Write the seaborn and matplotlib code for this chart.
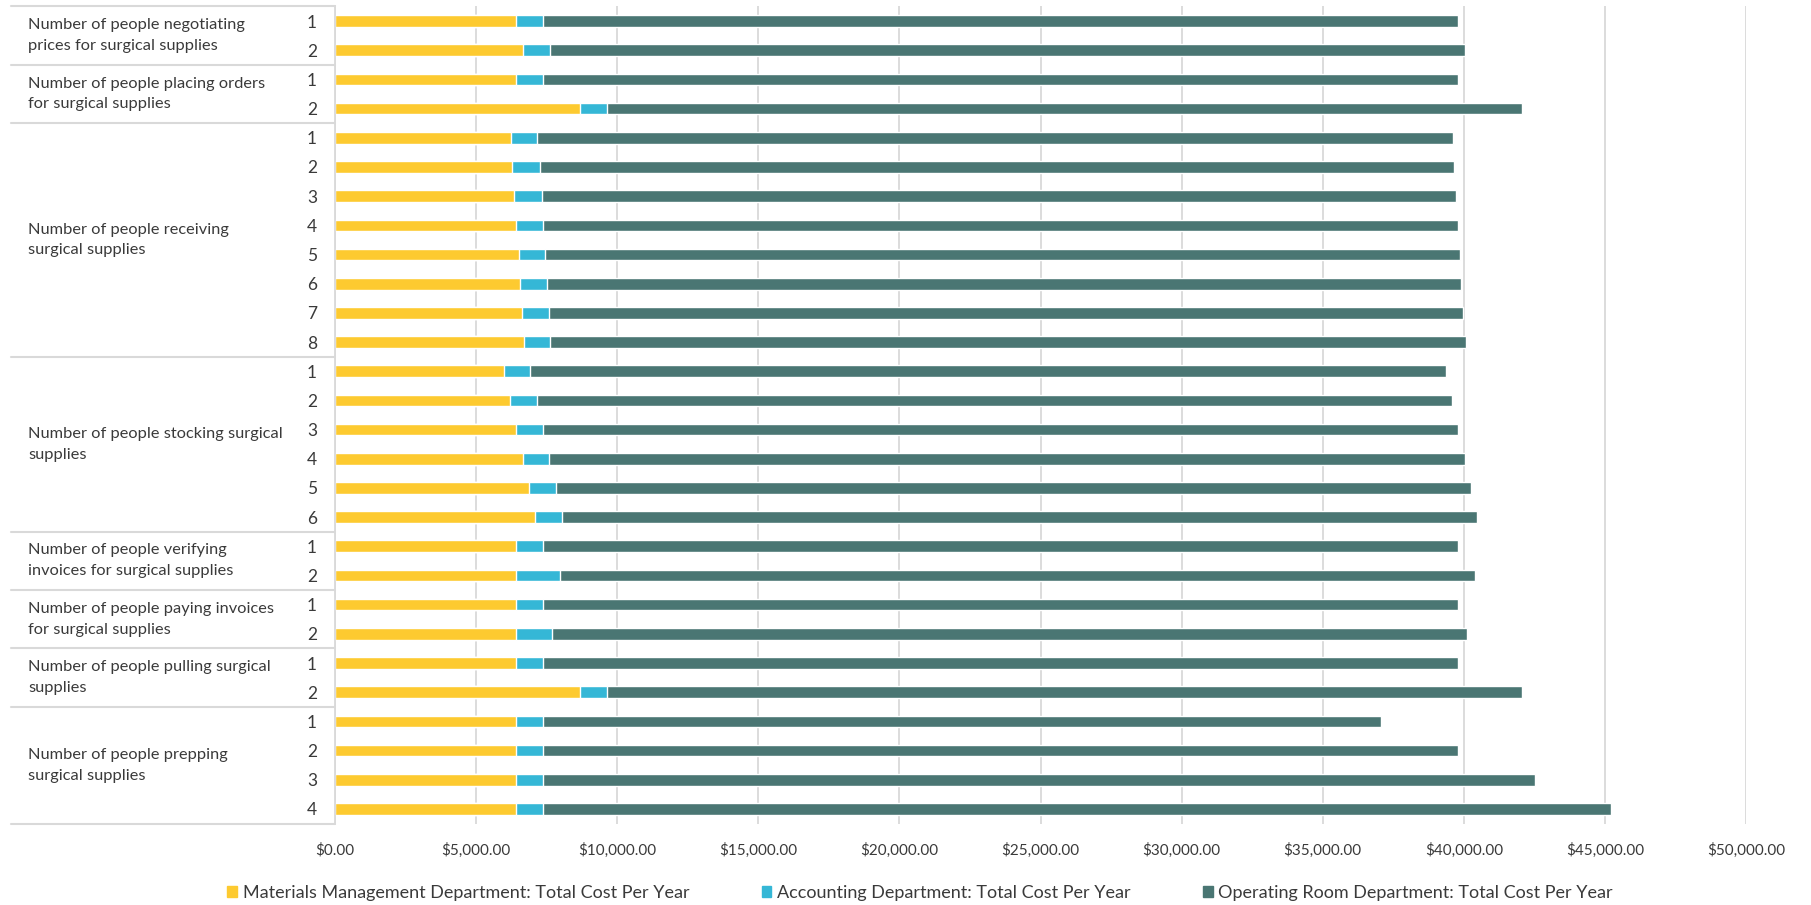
import matplotlib
matplotlib.use("Agg")
import numpy as np
import seaborn as sns
import matplotlib.transforms as mtransforms
from matplotlib import pyplot as plt
from matplotlib.lines import Line2D
from matplotlib.patches import Patch
from matplotlib.ticker import FuncFormatter

# data
groups = [
    "Number of people negotiating\nprices for surgical supplies",
    "Number of people placing orders\nfor surgical supplies",
    "Number of people receiving\nsurgical supplies",
    "Number of people stocking surgical\nsupplies",
    "Number of people verifying\ninvoices for surgical supplies",
    "Number of people paying invoices\nfor surgical supplies",
    "Number of people pulling surgical\nsupplies",
    "Number of people prepping\nsurgical supplies",
]
group_sizes = [2, 2, 8, 6, 2, 2, 2, 4]
people = [1, 2, 1, 2, 1, 2, 3, 4, 5, 6, 7, 8, 1, 2, 3, 4, 5, 6, 1, 2, 1, 2, 1, 2, 1, 2, 3, 4]

materials = [6427, 6650, 6427, 8681, 6237, 6285, 6356, 6427, 6509, 6569, 6616, 6686,
             5977, 6201, 6427, 6650, 6874, 7087, 6427, 6427, 6427, 6427, 6427, 8681,
             6427, 6427, 6427, 6427]
accounting = [932, 968, 932, 970, 934, 968, 968, 932, 921, 932, 956, 932,
              933, 946, 932, 922, 957, 971, 932, 1558, 932, 1263, 932, 970,
              932, 932, 932, 932]
operating_room = [32444, 32409, 32444, 32418, 32441, 32407, 32407, 32444, 32443, 32408, 32407, 32444,
                  32442, 32430, 32444, 32455, 32407, 32403, 32444, 32406, 32444, 32441, 32444, 32418,
                  29715, 32444, 35148, 37851]

series_names = [
    "Materials Management Department: Total Cost Per Year",
    "Accounting Department: Total Cost Per Year",
    "Operating Room Department: Total Cost Per Year",
]
yellow, cyan, teal = "#FDCA30", "#35B7D6", "#4A7673"
grid_col = "#D9D9D9"
text_col = "#3A3A3A"

sns.set_style("white")
plt.rcParams["font.family"] = ["Lato", "DejaVu Sans"]

W, H = 1811, 905
fig = plt.figure(figsize=(W / 100, H / 100), dpi=100)
ax = fig.add_axes([335 / W, 1 - 823.5 / H, (1746 - 335) / W, (823.5 - 6.5) / H])

rows = np.arange(len(people))
mm = np.array(materials)
acc = np.array(accounting)
orr = np.array(operating_room)

# stacked bars drawn as overlapping cumulative bars
for vals, col in [(mm + acc + orr, teal), (mm + acc, cyan), (mm, yellow)]:
    sns.barplot(x=vals, y=rows, orient="h", color=col, width=0.4,
                saturation=1, errorbar=None, ax=ax)

ax.set_xlim(0, 50000)
ax.set_ylim(len(people) - 0.5, -0.5)
ax.set_xticks(np.arange(0, 50001, 5000))
ax.xaxis.set_major_formatter(FuncFormatter(lambda v, p: f"${v:,.2f}"))
ax.set_yticks(rows)
ax.set_yticklabels([str(p) for p in people])
for lbl in ax.get_yticklabels():
    lbl.set_horizontalalignment("center")
ax.tick_params(axis="y", length=0, pad=16.5, labelsize=12.5, labelcolor=text_col)
ax.tick_params(axis="x", length=0, pad=14, labelsize=11, labelcolor=text_col)
ax.set_xlabel("")
ax.set_ylabel("")

ax.xaxis.grid(True, color=grid_col, lw=1.3)
ax.yaxis.grid(False)
ax.set_axisbelow(True)
for s in ["top", "right", "bottom"]:
    ax.spines[s].set_visible(False)
ax.spines["left"].set_color(grid_col)
ax.spines["left"].set_linewidth(1.3)

# multi-level category labels on the left
blend = mtransforms.blended_transform_factory(fig.transFigure, ax.transData)
start = 0
bounds = [-0.5]
for name, n in zip(groups, group_sizes):
    center = start + (n - 1) / 2
    ax.text(28 / W, center, name, transform=blend, ha="left", va="center",
            fontsize=11.8, color=text_col, linespacing=1.62)
    start += n
    bounds.append(start - 0.5)
for b in bounds:
    fig.add_artist(Line2D([11 / W, 335 / W], [b, b], transform=blend,
                          color=grid_col, lw=1.5))

handles = [Patch(color=c) for c in [yellow, cyan, teal]]
fig.legend(handles, series_names, loc="center", bbox_to_anchor=(920 / W, 1 - 893 / H),
           ncol=3, frameon=False, fontsize=13, handlelength=0.55, handleheight=0.55,
           handletextpad=0.3, columnspacing=4.0, labelcolor=text_col)

fig.savefig("out.png", dpi=100)
